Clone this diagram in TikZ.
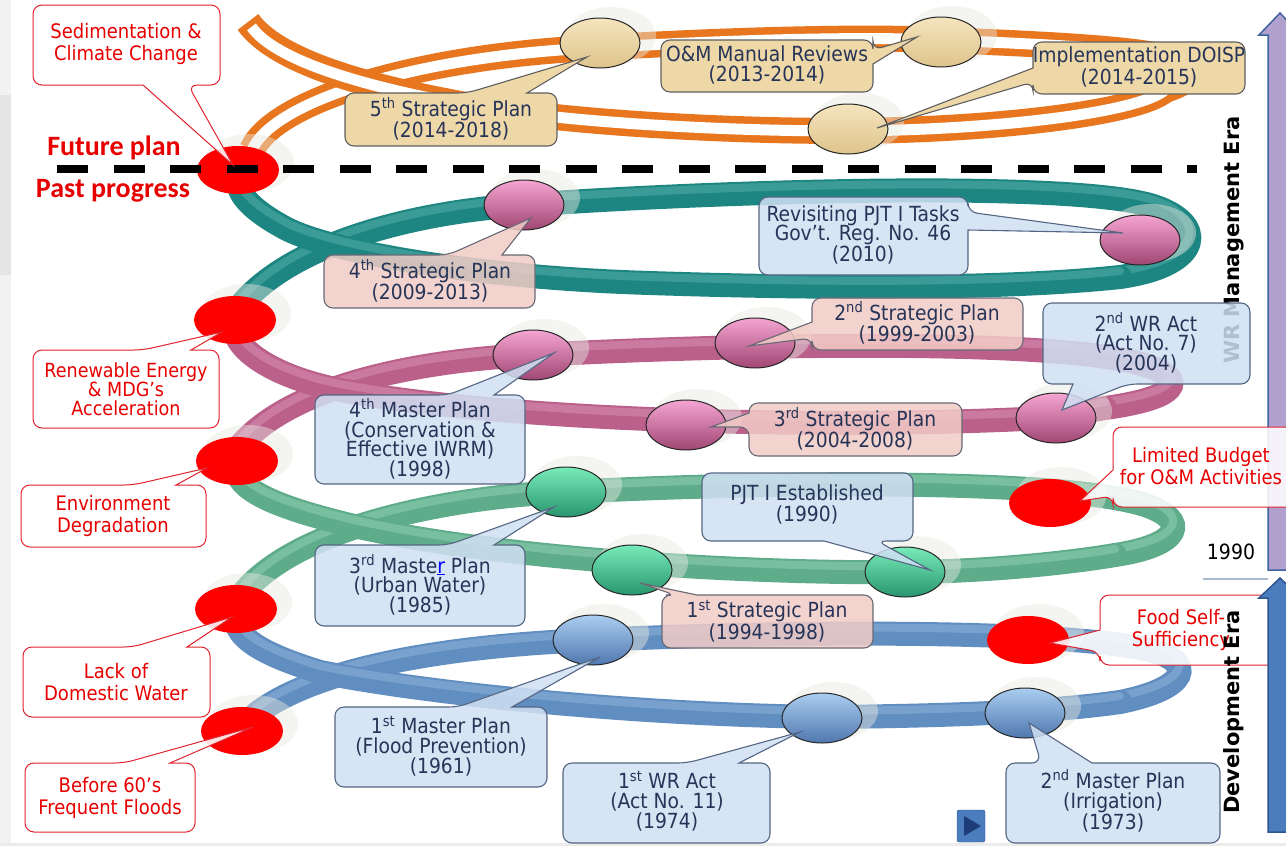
\documentclass[tikz,border=0pt]{standalone}
\usepackage{fontspec}
\setmainfont{DejaVu Sans}[FakeStretch=0.9]
\newfontfamily\carl{Carlito}
\newfontfamily\eraf{DejaVu Sans}
\usetikzlibrary{shapes.geometric,calc}

\definecolor{tealD}{RGB}{30,134,130}
\definecolor{tealL}{RGB}{95,182,176}
\definecolor{pinkD}{RGB}{186,96,138}
\definecolor{pinkL}{RGB}{222,152,188}
\definecolor{grnD}{RGB}{95,172,138}
\definecolor{grnL}{RGB}{150,215,185}
\definecolor{bluD}{RGB}{96,142,192}
\definecolor{bluL}{RGB}{150,185,225}
\definecolor{orgC}{RGB}{232,118,30}
\definecolor{pkTop}{RGB}{245,165,210}
\definecolor{pkBot}{RGB}{160,70,115}
\definecolor{gnTop}{RGB}{120,235,185}
\definecolor{gnBot}{RGB}{40,150,110}
\definecolor{buTop}{RGB}{170,205,240}
\definecolor{buBot}{RGB}{80,120,175}
\definecolor{tnTop}{RGB}{245,228,190}
\definecolor{tnBot}{RGB}{222,196,140}
\definecolor{bxBlue}{RGB}{208,224,243}
\definecolor{bdBlue}{RGB}{85,102,132}
\definecolor{bxPink}{RGB}{242,204,198}
\definecolor{bdPink}{RGB}{105,105,118}
\definecolor{bxTan}{RGB}{238,216,168}
\definecolor{bdTan}{RGB}{95,95,95}
\definecolor{rdLine}{RGB}{225,35,45}
\definecolor{rdText}{RGB}{232,0,0}
\definecolor{txtDark}{RGB}{38,52,88}
\definecolor{haloC}{RGB}{232,232,225}
\definecolor{arrUp}{RGB}{178,160,206}
\definecolor{arrUpB}{RGB}{62,100,160}
\definecolor{arrDn}{RGB}{74,124,190}
\definecolor{arrDnB}{RGB}{48,86,145}
\definecolor{playTri}{RGB}{30,60,120}
\definecolor{sepLine}{RGB}{170,185,205}

\tikzset{
  rib/.style={line width=24pt, line cap=round},
  ribhl/.style={line width=8pt, opacity=0.45, line cap=round},
  ellbase/.style={ellipse, draw=black!85, line width=1pt, minimum width=80pt, minimum height=50pt, inner sep=0pt},
  pinkE/.style={ellbase, top color=pkTop, bottom color=pkBot},
  grnE/.style={ellbase, top color=gnTop, bottom color=gnBot},
  bluE/.style={ellbase, top color=buTop, bottom color=buBot},
  tanE/.style={ellbase, top color=tnTop, bottom color=tnBot},
  reddot/.style={ellipse, fill=red, minimum width=82pt, minimum height=48pt, inner sep=0pt},
  haloS/.style={fill=haloC, opacity=0.45},
  cbBlue/.style={fill=bxBlue, fill opacity=0.85, draw=bdBlue, line width=1.1pt},
  cbPink/.style={fill=bxPink, fill opacity=0.85, draw=bdPink, line width=1.1pt},
  cbTan/.style={fill=bxTan, draw=bdTan, line width=1.1pt},
  cbRed/.style={fill=white, fill opacity=0.88, draw=rdLine, line width=1pt},
  ctxt/.style={align=center, inner sep=0pt, text=txtDark, font=\fontsize{20.8}{19.8}\selectfont},
  rtxt/.style={align=center, inner sep=0pt, text=rdText, font=\fontsize{20}{22}\selectfont},
  eratxt/.style={rotate=90, inner sep=0pt, font=\eraf\bfseries\fontsize{21}{21}\selectfont},
}

\newcommand\ellnode[4]{\fill[haloS] (#2+11,#3-7) ellipse [x radius=45pt, y radius=29pt];
  \node[#4] (#1) at (#2,#3) {};}
\newcommand\ribbonpath[3]{\draw[rib, draw=#1] #3; \draw[ribhl, draw=#2, yshift=6pt] #3;}
\newcommand\orribbon[2][]{\draw[orgC, line width=26pt] #2; \draw[white, line width=11pt, #1] #2;}
\newcommand\callT[8]{\path[#1] (#6,#3) -- #8 -- (#7,#3) [rounded corners=9pt] -- (#4,#3) -- (#4,#5) -- (#2,#5) -- (#2,#3) -- cycle;}
\newcommand\callB[8]{\path[#1] (#7,#5) -- #8 -- (#6,#5) [rounded corners=9pt] -- (#2,#5) -- (#2,#3) -- (#4,#3) -- (#4,#5) -- cycle;}
\newcommand\callL[8]{\path[#1] (#2,#7) -- #8 -- (#2,#6) [rounded corners=9pt] -- (#2,#3) -- (#4,#3) -- (#4,#5) -- (#2,#5) -- cycle;}
\newcommand\callR[8]{\path[#1] (#4,#6) -- #8 -- (#4,#7) [rounded corners=9pt] -- (#4,#5) -- (#2,#5) -- (#2,#3) -- (#4,#3) -- cycle;}

\begin{document}
\begin{tikzpicture}[x=1pt,y=-1pt]
\useasboundingbox (0,0) rectangle (1286,846);
\fill[white] (0,0) rectangle (1286,846);
\fill[black!5] (0,0) rectangle (11,846);
\fill[black!10] (0,95) rectangle (11,275);
\fill[black!8] (0,843) rectangle (1286,846);

% ---------- ribbons: back parts ----------
\ribbonpath{bluD}{bluL}{(256,714) .. controls (320,665) and (460,645) .. (593,640) .. controls (760,632) and (1050,628) .. (1150,650) .. controls (1196,662) and (1190,688) .. (1120,702)}
\ribbonpath{grnD}{grnL}{(240,597) .. controls (290,530) and (440,497) .. (566,492) .. controls (760,482) and (1060,478) .. (1145,505) .. controls (1190,520) and (1182,545) .. (1115,555)}
\ribbonpath{pinkD}{pinkL}{(238,448) .. controls (290,385) and (420,360) .. (533,355) .. controls (700,346) and (1050,336) .. (1145,365) .. controls (1190,380) and (1178,398) .. (1105,408)}
\ribbonpath{tealD}{tealL}{(240,306) .. controls (290,245) and (410,212) .. (524,205) .. controls (700,192) and (1060,180) .. (1150,205) .. controls (1208,222) and (1205,265) .. (1120,277)}
\orribbon{(252,150) .. controls (272,104) and (400,62) .. (560,50) .. controls (700,41) and (850,36) .. (941,40) .. controls (1060,45) and (1180,50) .. (1190,68) .. controls (1195,78) and (1180,85) .. (1165,90)}
% ---------- ribbons: front parts ----------
\ribbonpath{bluD}{bluL}{(1120,702) .. controls (1050,712) and (950,716) .. (822,717) .. controls (620,714) and (420,692) .. (320,672) .. controls (265,655) and (240,640) .. (236,622)}
\ribbonpath{grnD}{grnL}{(1115,555) .. controls (1050,566) and (960,572) .. (905,572) .. controls (760,574) and (500,560) .. (350,525) .. controls (280,508) and (242,492) .. (237,472)}
\ribbonpath{pinkD}{pinkL}{(1105,408) .. controls (1070,414) and (1060,418) .. (1000,420) .. controls (800,428) and (500,420) .. (340,390) .. controls (275,377) and (240,352) .. (235,332)}
\ribbonpath{tealD}{tealL}{(1120,277) .. controls (1000,290) and (800,288) .. (650,283) .. controls (480,278) and (330,252) .. (285,228) .. controls (252,210) and (240,196) .. (238,183)}
\orribbon[shorten >=6pt]{(1165,90) .. controls (1140,112) and (1000,130) .. (848,131) .. controls (700,131) and (540,120) .. (450,102) .. controls (360,85) and (275,60) .. (248,22)}

% ---------- ellipses ----------
\ellnode{O1}{600}{43}{tanE}
\ellnode{O2}{941}{42}{tanE}
\ellnode{O3}{848}{129}{tanE}
\ellnode{P1}{524}{205}{pinkE}
\ellnode{P2}{1140}{240}{pinkE}
\ellnode{P3}{533}{355}{pinkE}
\ellnode{P4}{755}{343}{pinkE}
\ellnode{P5}{686}{425}{pinkE}
\ellnode{P6}{1056}{418}{pinkE}
\ellnode{G1}{566}{492}{grnE}
\ellnode{G2}{632}{570}{grnE}
\ellnode{G3}{905}{572}{grnE}
\ellnode{B1}{593}{640}{bluE}
\ellnode{B2}{822}{718}{bluE}
\ellnode{B3}{1025}{713}{bluE}
\ellnode{R0}{238}{170}{reddot}
\ellnode{R1}{235}{320}{reddot}
\ellnode{R2}{237}{461}{reddot}
\ellnode{R3}{236}{609}{reddot}
\ellnode{R4}{242}{731}{reddot}
\ellnode{R5}{1050}{503}{reddot}
\ellnode{R6}{1028}{640}{reddot}

% ---------- divider ----------
\coordinate (dashL) at (57,169);
\coordinate (dashR) at (1197,169);
\draw[line width=8pt, dash pattern=on 31pt off 25.5pt] (dashL) -- (dashR);
\node[font=\carl\bfseries\fontsize{28}{28}\selectfont, text=rdText, inner sep=0pt] (fut) at (114,148) {Future plan};
\node[font=\carl\bfseries\fontsize{28}{28}\selectfont, text=rdText, inner sep=0pt] (past) at (113,191) {Past progress};

% era text behind boxes
\node[eratxt] (wrera) at (1234,240) {WR Management Era};

% upper era arrow (under the budget callout)
\filldraw[fill=arrUp, draw=arrUpB, line width=1.5pt] (1268,570) -- (1268,35) -- (1259,35) -- (1280,13) -- (1301,35) -- (1292,35) -- (1292,570) -- cycle;

% ---------- red callouts ----------
\callB{cbRed}{33}{5}{220}{85}{143}{188}{($(R0)+(-5,-5)$)}
\node[rtxt] (tSed) at (126,44) {Sedimentation \&\\Climate Change};
\callT{cbRed}{33}{350}{219}{428}{143}{191}{($(R1)+(-13,12)$)}
\node[rtxt, font=\fontsize{19.5}{19}\selectfont] (tRen) at (126,389) {Renewable Energy\\\& MDG’s\\Acceleration};
\callT{cbRed}{21}{485}{206}{547}{133}{176}{($(R2)+(-30,7)$)}
\node[rtxt] (tEnv) at (113,516) {Environment\\Degradation};
\callT{cbRed}{23}{647}{210}{717}{133}{187}{($(R3)+(-4,8)$)}
\node[rtxt] (tLack) at (116,682) {Lack of\\Domestic Water};
\callT{cbRed}{25}{763}{195}{832}{124}{170}{($(R4)+(11,-4)$)}
\node[rtxt] (tBef) at (110,798) {Before 60’s\\Frequent Floods};
\callL{cbRed}{1113}{427}{1310}{507}{470}{496}{($(R5)+(30,-2)$)}
\node[rtxt] (tLim) at (1201,466) {Limited Budget\\for O\&M Activities};
\callL{cbRed}{1100}{595}{1300}{665}{630}{652}{($(R6)+(22,3)$)}
\node[rtxt] (tFood) at (1181,630) {Food Self-\\Sufficiency};

% ---------- blue callouts ----------
\callR{cbBlue}{759}{197}{968}{275}{212}{230}{($(P2)+(-17,-7)$)}
\node[ctxt] (tRev) at (863,235) {Revisiting PJT I Tasks\\Gov’t. Reg. No. 46\\(2010)};
\callB{cbBlue}{1043}{303}{1250}{384}{1073}{1128}{($(P6)+(6,-8)$)}
\node[ctxt] (tWR2) at (1146,343) {2\textsuperscript{nd} WR Act\\(Act No. 7)\\(2004)};
\callT{cbBlue}{315}{395}{525}{484}{448}{494}{($(P3)+(21,-2)$)}
\node[ctxt] (tMP4) at (420,439) {4\textsuperscript{th} Master Plan\\(Conservation \&\\Effective IWRM)\\(1998)};
\callT{cbBlue}{315}{545}{525}{626}{448}{494}{($(G1)+(-12,15)$)}
\node[ctxt] (tMP3) at (420,585) {3\textsuperscript{rd} Maste\textcolor{blue}{\underline{r}} Plan\\(Urban Water)\\(1985)};
\callB{cbBlue}{702}{473}{913}{541}{824}{877}{($(G3)+(25,-2)$)}
\node[ctxt] (tPJT) at (807,504) {PJT I Established\\(1990)};
\callT{cbBlue}{335}{707}{547}{787}{458}{512}{($(B1)+(7,17)$)}
\node[ctxt] (tMP1) at (441,746) {1\textsuperscript{st} Master Plan\\(Flood Prevention)\\(1961)};
\callT{cbBlue}{563}{763}{770}{843}{687}{739}{($(B2)+(-22,14)$)}
\node[ctxt] (tWR1) at (667,801) {1\textsuperscript{st} WR Act\\(Act No. 11)\\(1974)};
\callT{cbBlue}{1006}{763}{1220}{843}{1041}{1092}{($(B3)+(4,10)$)}
\node[ctxt] (tMP2) at (1113,801) {2\textsuperscript{nd} Master Plan\\(Irrigation)\\(1973)};

% ---------- pink callouts ----------
\callT{cbPink}{324}{255}{535}{308}{448}{502}{($(P1)+(7,13)$)}
\node[ctxt] (tSP4) at (430,281) {4\textsuperscript{th} Strategic Plan\\(2009-2013)};
\callL{cbPink}{812}{298}{1023}{350}{322}{338}{($(P4)+(-6,3)$)}
\node[ctxt] (tSP2) at (917,323) {2\textsuperscript{nd} Strategic Plan\\(1999-2003)};
\callL{cbPink}{749}{403}{962}{456}{413}{427}{($(P5)+(25,2)$)}
\node[ctxt] (tSP3) at (855,429) {3\textsuperscript{rd} Strategic Plan\\(2004-2008)};
\callT{cbPink}{662}{595}{873}{648}{675}{697}{($(G2)+(8,13)$)}
\node[ctxt] (tSP1) at (767,621) {1\textsuperscript{st} Strategic Plan\\(1994-1998)};

% ---------- tan callouts ----------
\callT{cbTan}{345}{93}{557}{146}{467}{527}{($(O1)+(-13,14)$)}
\node[ctxt] (tSP5) at (451,119) {5\textsuperscript{th} Strategic Plan\\(2014-2018)};
\callR{cbTan}{661}{40}{873}{92}{50}{64}{($(O2)+(-24,-5)$)}
\node[ctxt] (tOM) at (767,65) {O\&M Manual Reviews\\(2013-2014)};
\callL{cbTan}{1033}{42}{1245}{94}{68}{82}{($(O3)+(29,-1)$)}
\node[ctxt] (tDO) at (1139,67) {Implementation DOISP\\(2014-2015)};

% era text over box
\node[eratxt] (devera) at (1234,712) {Development Era};

% ---------- lower era arrow and year mark ----------
\filldraw[fill=arrDn, draw=arrDnB, line width=1.5pt] (1268,832) -- (1268,598) -- (1259,598) -- (1280,578) -- (1301,598) -- (1292,598) -- (1292,832) -- cycle;
\draw[sepLine, line width=1.5pt] (1203,579) -- (1268,579);
\node[font=\fontsize{21}{21}\selectfont, inner sep=0pt] (y1990) at (1231,552) {1990};

% play button
\node[draw=arrDnB, fill=arrDn, rounded corners=2pt, minimum width=28pt, minimum height=32pt, inner sep=0pt] (play) at (971,826) {};
\fill[playTri] ($(play)+(-7,-10)$) -- ($(play)+(-7,10)$) -- ($(play)+(10,0)$) -- cycle;
\end{tikzpicture}
\end{document}
